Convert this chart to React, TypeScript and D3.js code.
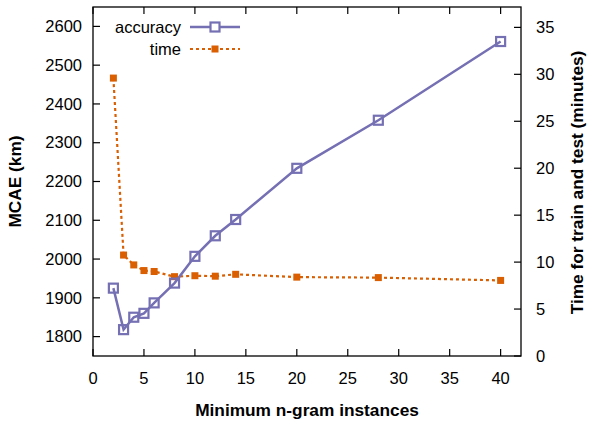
import React from "react";
import * as d3 from "d3";

const nGramMin = [2, 3, 4, 5, 6, 8, 10, 12, 14, 20, 28, 40];
const accuracyKm = [1925, 1818, 1850, 1860, 1887, 1938, 2007, 2060, 2102, 2234, 2358, 2561];
const timeMinutes = [29.6, 10.75, 9.7, 9.1, 9.0, 8.45, 8.55, 8.5, 8.7, 8.4, 8.35, 8.05];
const xTicks = [0, 5, 10, 15, 20, 25, 30, 35, 40];
const yTicks = [1800, 1900, 2000, 2100, 2200, 2300, 2400, 2500, 2600];
const y2Ticks = [0, 5, 10, 15, 20, 25, 30, 35];

const W = 600;
const H = 425;
const left = 93;
const right = 521;
const top = 7;
const bottom = 356;

const purple = "#7570b3";
const orange = "#d95f02";
const font = "'Liberation Sans', Arial, Helvetica, sans-serif";

const App = () => {
  const x = d3.scaleLinear().domain([0, 42]).range([left, right]);
  const y = d3.scaleLinear().domain([1750, 2650]).range([bottom, top]);
  const y2 = d3.scaleLinear().domain([0, 37.17]).range([bottom, top]);

  const accLine = d3
    .line<number>()
    .x((_, i) => x(nGramMin[i]))
    .y((d) => y(d));
  const timeLine = d3
    .line<number>()
    .x((_, i) => x(nGramMin[i]))
    .y((d) => y2(d));

  const tick = 7;

  return (
    <svg width={W} height={H} style={{ position: "absolute", left: 0, top: 0, background: "#fff" }}>
      <g fontFamily={font} fontSize={16.5} fill="#000">
        {/* x ticks, bottom and mirrored on top */}
        {xTicks.map((t) => (
          <g key={"x" + t}>
            <line x1={x(t)} x2={x(t)} y1={bottom} y2={bottom - tick} stroke="#000" strokeWidth={1.2} />
            <line x1={x(t)} x2={x(t)} y1={top} y2={top + tick} stroke="#000" strokeWidth={1.2} />
            <text x={x(t)} y={bottom + 28} textAnchor="middle">
              {t}
            </text>
          </g>
        ))}
        {yTicks.map((t) => (
          <g key={"y" + t}>
            <line x1={left} x2={left + tick} y1={y(t)} y2={y(t)} stroke="#000" strokeWidth={1.2} />
            <text x={left - 11} y={y(t)} dy="0.35em" textAnchor="end">
              {t}
            </text>
          </g>
        ))}
        {y2Ticks.map((t) => (
          <g key={"y2" + t}>
            <line x1={right} x2={right - tick} y1={y2(t)} y2={y2(t)} stroke="#000" strokeWidth={1.2} />
            <text x={right + 15} y={y2(t)} dy="0.35em" textAnchor="start">
              {t}
            </text>
          </g>
        ))}
        <rect x={left} y={top} width={right - left} height={bottom - top} fill="none" stroke="#000" strokeWidth={1.3} />

        <g fontWeight="bold" fontSize={17.3}>
          <text transform={`translate(21,${(top + bottom) / 2}) rotate(-90)`} textAnchor="middle">
            MCAE (km)
          </text>
          <text transform={`translate(583,${(top + bottom) / 2 + 1}) rotate(-90)`} textAnchor="middle">
            Time for train and test (minutes)
          </text>
          <text x={307} y={416} textAnchor="middle">
            Minimum n-gram instances
          </text>
        </g>

        {/* time */}
        <path d={timeLine(timeMinutes) ?? ""} fill="none" stroke={orange} strokeWidth={2.2} strokeDasharray="3,3" />
        {timeMinutes.map((v, i) => (
          <rect key={"t" + i} x={x(nGramMin[i]) - 3.5} y={y2(v) - 3.5} width={7} height={7} fill={orange} />
        ))}

        {/* accuracy */}
        <path d={accLine(accuracyKm) ?? ""} fill="none" stroke={purple} strokeWidth={2.5} />
        {accuracyKm.map((v, i) => (
          <rect
            key={"a" + i}
            x={x(nGramMin[i]) - 4.5}
            y={y(v) - 4.5}
            width={9}
            height={9}
            fill="none"
            stroke={purple}
            strokeWidth={2.2}
          />
        ))}

        {/* legend */}
        <text x={181} y={27} dy="0.35em" textAnchor="end">
          accuracy
        </text>
        <line x1={190} x2={240} y1={27} y2={27} stroke={purple} strokeWidth={2.5} />
        <rect x={215 - 4.5} y={27 - 4.5} width={9} height={9} fill="#fff" stroke={purple} strokeWidth={2.2} />
        <text x={181} y={49} dy="0.35em" textAnchor="end">
          time
        </text>
        <line x1={190} x2={240} y1={49} y2={49} stroke={orange} strokeWidth={2.2} strokeDasharray="3,3" />
        <rect x={215 - 3.5} y={49 - 3.5} width={7} height={7} fill={orange} />
      </g>
    </svg>
  );
};

export default App;
